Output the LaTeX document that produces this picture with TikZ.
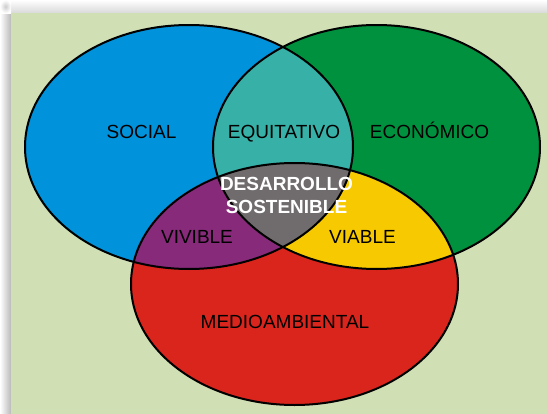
\documentclass[tikz,border=0pt]{standalone}
\usepackage{fontspec}
\setmainfont{Liberation Sans}
\definecolor{bgc}{RGB}{208,223,180}
\definecolor{socialc}{RGB}{0,146,219}
\definecolor{econc}{RGB}{0,145,63}
\definecolor{medioc}{RGB}{218,37,29}
\definecolor{tealc}{RGB}{55,176,167}
\definecolor{purplec}{RGB}{134,42,121}
\definecolor{yellowc}{RGB}{246,201,0}
\definecolor{greyc}{RGB}{112,107,108}
\tikzset{
  outline/.style={draw=black, line width=1.5pt},
  lbl/.style={font=\fontsize{14.25}{17}\selectfont, text=black, inner sep=0pt, anchor=base},
  lblw/.style={font=\fontsize{14.25}{17.25}\selectfont\bfseries, text=white, inner sep=0pt, align=center},
}
\begin{document}
\begin{tikzpicture}[x=0.75pt,y=-0.75pt]
\useasboundingbox (0,0) rectangle (547,414);
% shadow
\fill[white] (0,0) rectangle (547,414);
\shade[left color=white, right color=gray!55] (0,6) rectangle (11,414);
\shade[top color=white, bottom color=gray!30] (6,0) rectangle (547,13);
\shade[inner color=gray!40, outer color=white] (0,0) rectangle (11,13);
% background panel
\fill[bgc] (11,13) rectangle (547,414);
% ellipses
\def\blueE{(189,147) ellipse [x radius=164, y radius=122]}
\def\greenE{(376.5,147) ellipse [x radius=163.5, y radius=122]}
\def\redE{(294.5,284) ellipse [x radius=163.5, y radius=121]}
\fill[socialc] \blueE;
\fill[econc] \greenE;
\fill[medioc] \redE;
\begin{scope}
  \clip \blueE;
  \fill[tealc] \greenE;
  \fill[purplec] \redE;
\end{scope}
\begin{scope}
  \clip \greenE;
  \fill[yellowc] \redE;
\end{scope}
\begin{scope}
  \clip \blueE;
  \clip \greenE;
  \fill[greyc] \redE;
\end{scope}
\draw[outline] \blueE;
\draw[outline] \greenE;
\draw[outline] \redE;
% labels
\node[lbl] (social) at (141.5,138) {SOCIAL};
\node[lbl] (equit) at (284,138) {EQUITATIVO};
\node[lbl] (econ) at (429.5,138) {ECONÓMICO};
\node[lbl] (vivible) at (197,243) {VIVIBLE};
\node[lbl] (viable) at (362.5,243) {VIABLE};
\node[lbl] (medio) at (285,328.3) {MEDIOAMBIENTAL};
\node[lblw] (desarrollo) at (286.5,195) {DESARROLLO\\SOSTENIBLE};
\end{tikzpicture}
\end{document}
